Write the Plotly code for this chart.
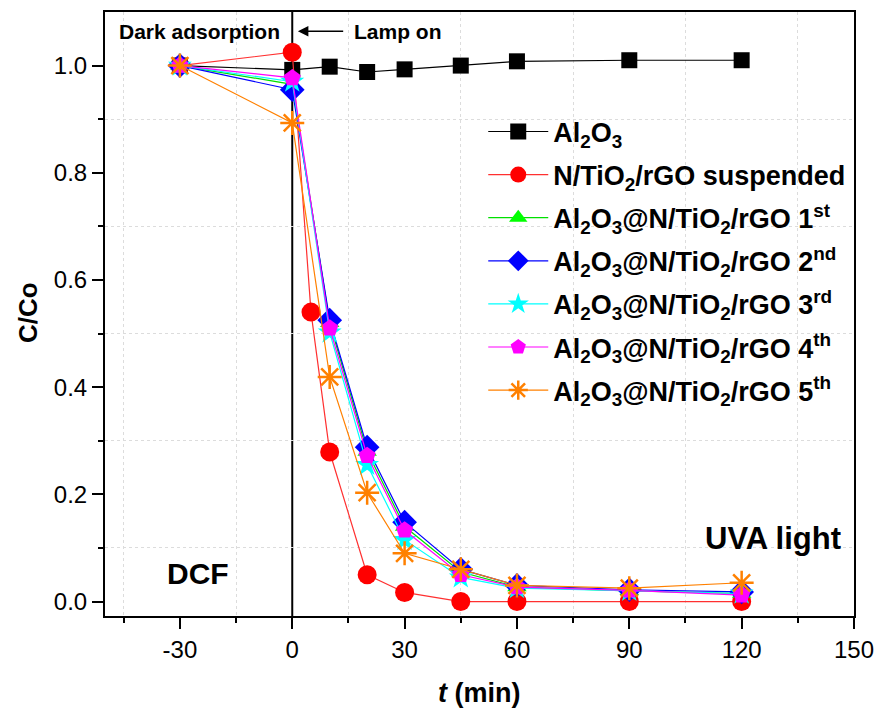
import plotly.graph_objects as go

t_al = [-30, 0, 10, 20, 30, 45, 60, 90, 120]
al2o3 = [1.0, 0.992, 0.998, 0.988, 0.993, 1.0, 1.008, 1.01, 1.01]

t_red = [-30, 0, 5, 10, 20, 30, 45, 60, 90, 120]
red = [1.0, 1.025, 0.54, 0.279, 0.05, 0.017, 0.0, 0.0, 0.0, 0.0]

t = [-30, 0, 10, 20, 30, 45, 60, 90, 120]
run1 = [1.0, 0.965, 0.52, 0.28, 0.14, 0.055, 0.027, 0.02, 0.015]
run2 = [1.0, 0.955, 0.525, 0.288, 0.148, 0.06, 0.03, 0.022, 0.018]
run3 = [1.0, 0.97, 0.502, 0.255, 0.115, 0.045, 0.025, 0.02, 0.015]
run4 = [1.0, 0.977, 0.51, 0.272, 0.133, 0.05, 0.027, 0.021, 0.012]
run5 = [1.0, 0.893, 0.419, 0.203, 0.09, 0.06, 0.03, 0.025, 0.035]

x_tickvals = [-30, 0, 30, 60, 90, 120, 150]
x_ticktext = ["-30", "0", "30", "60", "90", "120", "150"]
y_tickvals = [0.0, 0.2, 0.4, 0.6, 0.8, 1.0]
y_ticktext = ["0.0", "0.2", "0.4", "0.6", "0.8", "1.0"]

names = [
    "Al<sub>2</sub>O<sub>3</sub>",
    "N/TiO<sub>2</sub>/rGO suspended",
    "Al<sub>2</sub>O<sub>3</sub>@N/TiO<sub>2</sub>/rGO 1<sup>st</sup>",
    "Al<sub>2</sub>O<sub>3</sub>@N/TiO<sub>2</sub>/rGO 2<sup>nd</sup>",
    "Al<sub>2</sub>O<sub>3</sub>@N/TiO<sub>2</sub>/rGO 3<sup>rd</sup>",
    "Al<sub>2</sub>O<sub>3</sub>@N/TiO<sub>2</sub>/rGO 4<sup>th</sup>",
    "Al<sub>2</sub>O<sub>3</sub>@N/TiO<sub>2</sub>/rGO 5<sup>th</sup>",
]

FONT = "Arial, Liberation Sans, sans-serif"

series = [
    (t_al, al2o3, "black", "square", 16, "#000000"),
    (t_red, red, "#FF3030", "circle", 19, "#FF0000"),
    (t, run1, "#00E000", "triangle-up", 17, "#00FF00"),
    (t, run2, "#0000FF", "diamond", 19, "#0000FF"),
    (t, run3, "#00FFFF", "star", 18, "#00FFFF"),
    (t, run4, "#FF00FF", "pentagon", 18, "#FF00FF"),
    (t, run5, "#FF8000", "asterisk-open", 20, "#FF8000"),
]

fig = go.Figure()
for i, (xs, ys, lc, sym, sz, mc) in enumerate(series):
    marker = dict(symbol=sym, size=sz, color=mc, line=dict(width=0))
    if sym == "asterisk-open":
        marker = dict(symbol=sym, size=sz, color=mc, line=dict(width=2.5, color=mc))
    fig.add_trace(go.Scatter(
        x=xs, y=ys, mode="lines+markers", name=names[i],
        line=dict(color=lc, width=1.2), marker=marker,
        legendgroup=f"g{i}",
    ))

fig.add_shape(type="line", xref="x", yref="paper", x0=0, x1=0, y0=0, y1=1,
              line=dict(color="black", width=2), layer="below")

fig.add_annotation(x=1.5, y=1.064, ax=14, ay=1.064, xref="x", yref="y",
                   axref="x", ayref="y", text="", showarrow=True,
                   arrowhead=2, arrowsize=1.4, arrowwidth=1.5, arrowcolor="black")
fig.add_annotation(x=-24.7, y=1.064, text="<b>Dark adsorption</b>", showarrow=False,
                   font=dict(family=FONT, size=21, color="black"))
fig.add_annotation(x=28.3, y=1.064, text="<b>Lamp on</b>", showarrow=False,
                   font=dict(family=FONT, size=21, color="black"))
fig.add_annotation(x=-25.2, y=0.053, text="<b>DCF</b>", showarrow=False,
                   font=dict(family=FONT, size=30, color="black"))
fig.add_annotation(x=128.3, y=0.117, text="<b>UVA light</b>", showarrow=False,
                   font=dict(family=FONT, size=31, color="black"))

# axis titles
fig.add_annotation(xref="paper", yref="paper", x=0.5, y=-0.1275,
                   xanchor="center", yanchor="middle", showarrow=False,
                   text="<b><i>t</i> (min)</b>", font=dict(family=FONT, size=27, color="black"))
fig.add_annotation(xref="paper", yref="paper", x=-0.1028, y=0.5017,
                   xanchor="center", yanchor="middle", showarrow=False, textangle=-90,
                   text="<b>C/Co</b>", font=dict(family=FONT, size=26, color="black"))

fig.update_layout(
    width=876, height=708,
    margin=dict(l=105, r=22, t=12, b=92, autoexpand=False),
    plot_bgcolor="white", paper_bgcolor="white",
    font=dict(family=FONT, color="black"),
    showlegend=True,
    legend=dict(x=0.505, y=0.842, xanchor="left", yanchor="top",
                font=dict(family=FONT, size=27, color="black", weight="bold"),
                bgcolor="rgba(0,0,0,0)", tracegroupgap=5, itemwidth=60),
    xaxis=dict(
        range=[-50, 150], tickvals=x_tickvals, ticktext=x_ticktext,
        ticks="outside", ticklen=11, tickwidth=2, tickcolor="black",
        showline=True, linewidth=2, linecolor="black", mirror=True,
        showgrid=False, zeroline=False, automargin=False,
        tickfont=dict(family=FONT, size=24, color="black"),
        minor=dict(tickvals=[-45, -15, 15, 45, 75, 105, 135], ticks="outside",
                   ticklen=5, tickwidth=2, tickcolor="black", showgrid=True,
                   gridcolor="#dcdcdc", griddash="dot", gridwidth=1),
    ),
    yaxis=dict(
        range=[-0.027, 1.1], tickvals=y_tickvals, ticktext=y_ticktext,
        ticks="outside", ticklen=11, tickwidth=2, tickcolor="black",
        showline=True, linewidth=2, linecolor="black", mirror=True,
        showgrid=False, zeroline=False, automargin=False,
        tickfont=dict(family=FONT, size=24, color="black"),
        minor=dict(tickvals=[0.1, 0.3, 0.5, 0.7, 0.9], ticks="outside",
                   ticklen=5, tickwidth=2, tickcolor="black", showgrid=True,
                   gridcolor="#dcdcdc", griddash="dot", gridwidth=1),
    ),
)

fig.write_html(
    "out.html",
    config={"displayModeBar": False},
    post_script="document.body.style.margin='0px';document.body.style.padding='0px';document.body.style.overflow='hidden';",
)
